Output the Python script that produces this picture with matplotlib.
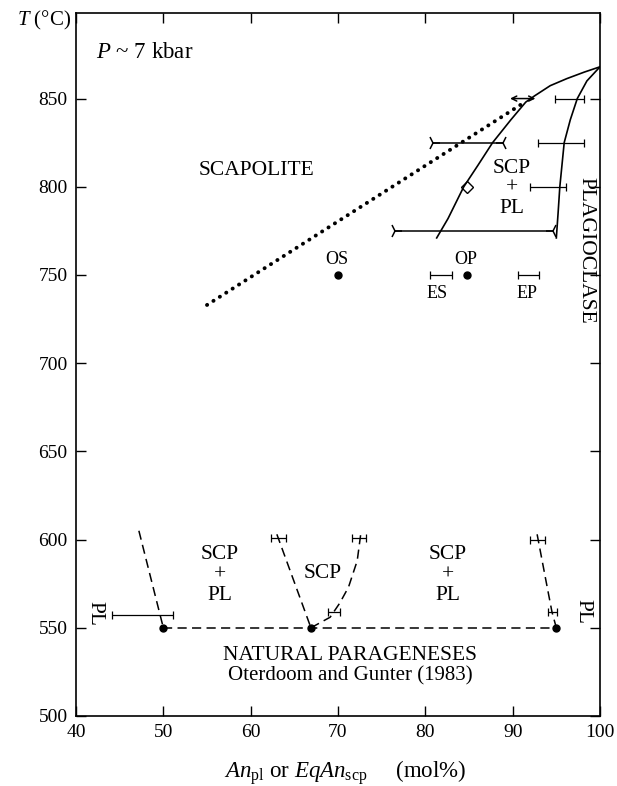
import matplotlib
matplotlib.use("Agg")
import matplotlib.pyplot as plt

plt.rcParams['font.family'] = ['Liberation Serif', 'DejaVu Serif']
plt.rcParams['mathtext.fontset'] = 'custom'
plt.rcParams['mathtext.rm'] = 'Liberation Serif'
plt.rcParams['mathtext.it'] = 'Liberation Serif:italic'

# solid phase boundaries (upper part)
scp_x = [81.3, 82.6, 84.4, 86.0, 87.7, 89.8, 91.5, 92.5, 94.3, 96.2, 98.2, 100.0]
scp_t = [771, 782, 800, 812, 825, 838, 848, 851.5, 857.3, 861.3, 865, 868]
pl_x = [95.0, 95.2, 95.4, 95.9, 96.6, 97.4, 98.5, 100.0]
pl_t = [771, 785, 800, 825, 838, 850, 860, 868]

# dotted line
dot_x = [55.0, 91.4]
dot_t = [733, 848]

# natural parageneses (dashed)
nat_left_x = [47.2, 50.0]
nat_left_t = [605, 550]
v_left_x = [63.0, 66.9]
v_left_t = [603, 550]
v_right_x = [66.9, 69.1, 70.2, 71.2, 72.2, 72.6]
v_right_t = [550, 556, 564, 573, 588, 603]
nat_right_x = [92.8, 93.8, 94.5, 95.0]
nat_right_t = [603, 577, 559, 550]
tie_x = [50.0, 95.0]
tie_t = [550, 550]

# points
pts_x = [50.0, 66.9, 95.0, 70.0, 84.8]
pts_t = [550, 550, 550, 750, 750]

# simple error bars: centre, T, half width
eb_x = [96.55, 95.55, 94.05, 81.75, 91.8, 47.6, 63.2, 72.4, 69.55, 92.85, 94.55]
eb_t = [850, 825, 800, 750, 750, 557, 601, 601, 559, 600, 559]
eb_w = [1.65, 2.65, 2.05, 1.25, 1.2, 3.5, 0.9, 0.8, 0.65, 0.85, 0.55]

# bracketed ranges (experiments)
br_t = [825, 775]
br_lo = [80.9, 76.5]
br_hi = [88.9, 94.6]

fig = plt.figure(figsize=(6.17, 7.86), dpi=100)
ax = fig.add_axes([76 / 617, 1 - 716 / 786, 524 / 617, 703 / 786])

ax.plot(scp_x, scp_t, color='black', lw=1.2)
ax.plot(pl_x, pl_t, color='black', lw=1.2)
ax.plot(dot_x, dot_t, color='black', lw=2.8, linestyle=(0, (0.05, 1.9)),
        dash_capstyle='round')

dash = (0, (6, 3.5))
for xs, ts in [(nat_left_x, nat_left_t), (v_left_x, v_left_t),
               (v_right_x, v_right_t), (nat_right_x, nat_right_t), (tie_x, tie_t)]:
    ax.plot(xs, ts, color='black', lw=1.1, linestyle=dash)

ax.plot(pts_x, pts_t, 'o', color='black', ms=5)

ax.errorbar(eb_x, eb_t, xerr=eb_w, fmt='none', ecolor='black',
            elinewidth=0.9, capsize=3, capthick=0.9)

for t, lo, hi in zip(br_t, br_lo, br_hi):
    ax.plot([lo, hi], [t, t], color='black', lw=1.1)
    ax.plot([lo], [t], marker='4', color='black', ms=10, mew=1.1)
    ax.plot([hi], [t], marker='3', color='black', ms=10, mew=1.1)

ax.annotate('', xy=(89.7, 850), xytext=(92.6, 850),
            arrowprops=dict(arrowstyle='<->', color='black', lw=1.1,
                            mutation_scale=9, shrinkA=0, shrinkB=0))
ax.plot([84.8], [800], marker='D', ms=6, mfc='none', mec='black', mew=1.0)

fs = 15.5
ax.text(42.3, 876, r'$P$ ~ 7 kbar', fontsize=16.5, ha='left', va='center')
ax.text(60.7, 809, 'SCAPOLITE', fontsize=fs, ha='center', va='center')
ax.text(69.9, 759, 'OS', fontsize=13, ha='center', va='center')
ax.text(84.6, 759, 'OP', fontsize=13, ha='center', va='center')
ax.text(81.4, 739.5, 'ES', fontsize=13, ha='center', va='center')
ax.text(91.7, 739.5, 'EP', fontsize=13, ha='center', va='center')
ax.text(89.9, 799, 'SCP\n+\nPL', fontsize=fs, ha='center', va='center',
        linespacing=1.1)
ax.text(98.4, 764, 'PLAGIOCLASE', fontsize=fs, ha='center', va='center',
        rotation=270)
ax.text(56.5, 580, 'SCP\n+\nPL', fontsize=fs, ha='center', va='center',
        linespacing=1.1)
ax.text(68.3, 581, 'SCP', fontsize=fs, ha='center', va='center')
ax.text(82.6, 580, 'SCP\n+\nPL', fontsize=fs, ha='center', va='center',
        linespacing=1.1)
ax.text(42.2, 558, 'PL', fontsize=fs, ha='center', va='center', rotation=270)
ax.text(98.0, 559, 'PL', fontsize=fs, ha='center', va='center', rotation=270)
ax.text(71.4, 534.5, 'NATURAL PARAGENESES', fontsize=fs, ha='center', va='center')
ax.text(71.4, 523, 'Oterdoom and Gunter (1983)', fontsize=15, ha='center',
        va='center')

ax.set_xlim(40, 100)
ax.set_ylim(500, 898.5)
ax.set_xticks([40, 50, 60, 70, 80, 90, 100])
ax.set_yticks([500, 550, 600, 650, 700, 750, 800, 850])
ax.tick_params(direction='in', length=7, width=1, top=True, right=True,
               labelsize=14, pad=6)
for s in ax.spines.values():
    s.set_linewidth(1.2)

fig.text(71 / 617, 1 - 20 / 786, r'$T$ (°C)', fontsize=15, ha='right', va='center')
fig.text(345 / 617, 1 - 773 / 786,
         r'$An_{\mathrm{pl}}$ or $EqAn_{\mathrm{scp}}$     (mol%)',
         fontsize=16.5, ha='center', va='center')

fig.savefig('out.png', dpi=100)
